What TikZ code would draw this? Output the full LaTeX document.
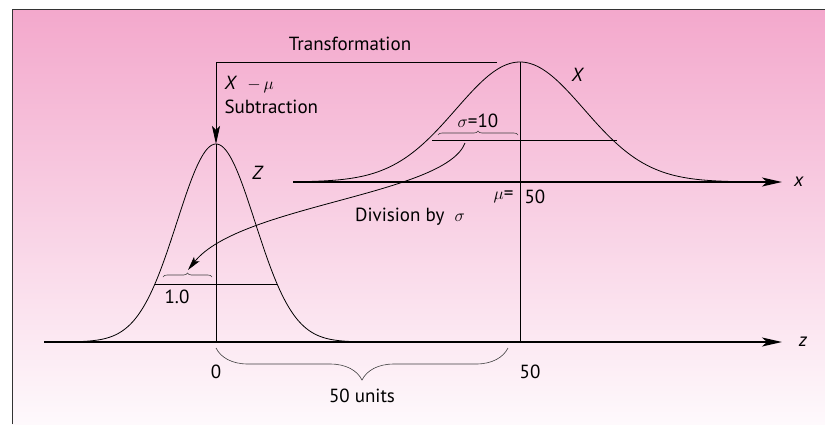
\documentclass[tikz,border=0pt]{standalone}
\usepackage{fontspec}
\setmainfont{PT Sans}
\usetikzlibrary{arrows.meta,decorations.pathreplacing,positioning}
\definecolor{pinktop}{RGB}{243,168,204}
\definecolor{pinkbot}{RGB}{254,249,252}

\begin{document}
\begin{tikzpicture}[x=1pt, y=-1pt, font=\fontsize{19}{22}\selectfont,
  axis/.style={line width=1.6pt, -{Stealth[length=20pt,width=9pt,inset=5pt]}},
  bell/.style={line width=0.8pt, smooth, samples=150},
  thin line/.style={line width=0.8pt},
  brc/.style={decorate, decoration={brace, amplitude=#1}, line width=0.6pt, black!75}]
\useasboundingbox (0,0) rectangle (825,424);
% background and frame
\shade[top color=pinktop, bottom color=pinkbot] (12,9) rectangle (825,424);
\draw[line width=1pt, black!80] (12,424) -- (12,9) -- (825,9);

\coordinate (zpeak) at (216,144);
\coordinate (zzero) at (216,342);
\coordinate (xpeak) at (520,62);
\coordinate (xmu) at (520,182);
\coordinate (zfifty) at (520,342);
\coordinate (zstart) at (44,342);
\coordinate (zend) at (782,342);
\coordinate (xstart) at (293,182);
\coordinate (xend) at (782,182);

% the two bells
\draw[bell, domain=-3.56:4.1] plot ({216+39*\x},{342-198*exp(-\x*\x/2)});
\draw[bell, domain=-3.5:3.6] plot ({520+64*\x},{182-120*exp(-\x*\x/2)});

% axes
\draw[axis] (zstart) -- (zend);
\draw[axis] (xstart) -- (xend);
\node (zlab) at (803,342) {\textit{z}};
\node (xlab) at (799,182) {\textit{x}};

% verticals and levels
\draw[thin line] (zpeak) -- (zzero);
\draw[thin line] (xpeak) -- (zfifty);
\draw[thin line] (155,284) -- (277,284);
\draw[thin line] (432,140) -- (617,140);

% transformation
\coordinate (tstart) at (497,62);
\draw[thin line, -{Stealth[length=18pt,width=8pt,inset=4pt]}] (tstart) -- (216,62) -- (zpeak);
\node (trans) at (350,44) {Transformation};
\node[anchor=west] (sub) at (221,85) {\textit{X}~~$-\,\mu$};
\node[anchor=west] (subt) at (221,107) {Subtraction};
\node (zname) at (258,173) {\textit{Z}};
\node (xname) at (578,75) {\textit{X}};

% sigma and division
\draw[brc=4pt] (438,135) -- (518,135);
\node (sig) at (478,121) {$\sigma${=}10};
\coordinate (divstart) at (465,143);
\coordinate (divend) at (188,270);
\draw[thin line, -{Stealth[length=14pt,width=7pt,inset=3pt]}] (divstart) .. controls (445,195) and (240,205) .. (divend);
\node (div) at (410,217) {Division by~ $\sigma$};
\draw[brc=4pt] (163,277) -- (212,277);
\node (one) at (177,297) {1.0};

% mu label
\node[anchor=east] (mul) at (517,197) {$\mu${=}};
\node[anchor=west] (fifty) at (521,197) {50};

% z ticks and brace
\node (zero) at (216,372) {0};
\node (zfiftyl) at (530,372) {50};
\draw[brc=32pt] (508,348) -- (216,348);
\node (units) at (362,396) {50 units};
\end{tikzpicture}
\end{document}
